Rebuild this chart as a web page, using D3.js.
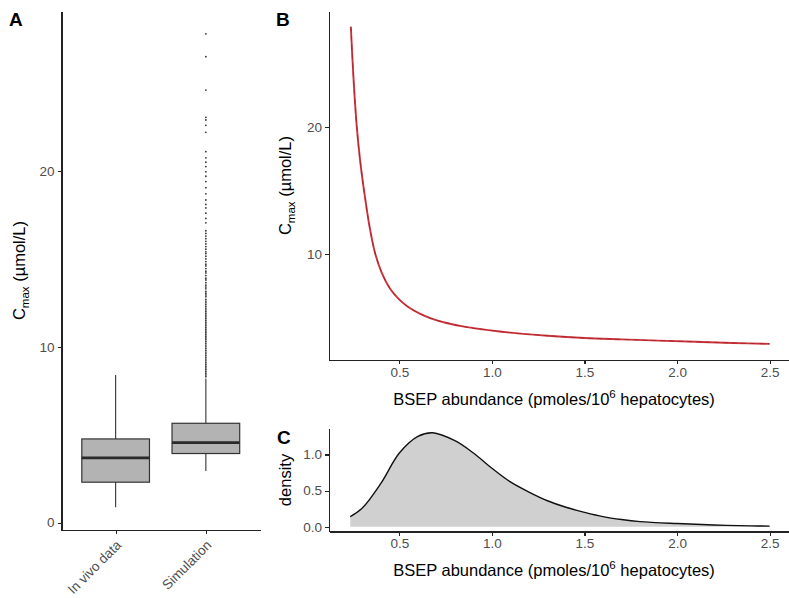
<!DOCTYPE html>
<html>
<head>
<meta charset="utf-8">
<title>Cmax vs BSEP</title>
<script src="https://d3js.org/d3.v7.min.js"></script>
<style>
    body{ margin:0; background:#fff; }
    .axis path, .axis line{ fill:none; stroke:#222; stroke-width:1.2; shape-rendering:crispEdges; }
    .axis text{ font-family:"Liberation Sans", Arial, sans-serif; font-size:13.5px; fill:#4d4d4d; }
    .title{ font-family:"Liberation Sans", Arial, sans-serif; font-size:16.5px; fill:#000; }
    .tag{ font-family:"Liberation Sans", Arial, sans-serif; font-size:19px; font-weight:bold; fill:#000; }
</style>
</head>
<body>
<script>
// panel A: boxplot data
var groups = ["In vivo data", "Simulation"];
var boxLow    = [0.88, 2.94];
var boxQ1     = [2.30, 3.93];
var boxMedian = [3.68, 4.55];
var boxQ3     = [4.76, 5.65];
var boxHigh   = [8.40, 8.20];
var simOutliers = [27.8, 26.5, 24.6, 23.05, 22.9, 22.6, 22.2, 21.1, 20.75, 20.5, 20.25, 19.95,
    19.7, 19.4, 19.05, 18.7, 18.35, 18.1, 17.9, 17.6, 17.3, 17.05, 16.6, 16.45, 16.3, 16.15,
    16.0, 15.85, 15.7, 15.55, 15.4, 15.3, 15.15, 15.0, 14.85, 14.7, 14.6, 14.45, 14.3, 14.2,
    14.05, 13.9, 13.8, 13.65, 13.5, 13.4, 13.3, 13.15, 13.05, 12.95, 12.85, 12.7, 12.6, 12.5,
    12.4, 12.3, 12.2, 12.1, 12.0, 11.9, 11.8, 11.7, 11.6, 11.5, 11.4, 11.3, 11.2, 11.1, 11.0,
    10.9, 10.8, 10.7, 10.6, 10.5, 10.4, 10.3, 10.2, 10.1, 10.0, 9.9, 9.8, 9.7, 9.6, 9.5, 9.4,
    9.3, 9.2, 9.1, 9.0, 8.9, 8.8, 8.7, 8.6, 8.5, 8.4, 8.3];
var aTicks = [0, 10, 20];

// panel B: Cmax vs BSEP abundance
var bsepX = [0.238, 0.252, 0.270, 0.288, 0.306, 0.324, 0.342, 0.369, 0.405, 0.45, 0.50, 0.55,
    0.61, 0.67, 0.75, 0.85, 0.95, 1.10, 1.30, 1.50, 1.70, 1.90, 2.10, 2.30, 2.50];
var cmaxY = [27.86, 23.9, 20.0, 17.35, 15.3, 13.5, 11.9, 10.05, 8.5, 7.25, 6.4, 5.8,
    5.3, 4.93, 4.58, 4.27, 4.06, 3.8, 3.56, 3.38, 3.27, 3.17, 3.08, 2.99, 2.92];
var bYTicks = [10, 20];
var xTicks = [0.5, 1.0, 1.5, 2.0, 2.5];

// panel C: density of BSEP abundance
var densX = [0.235, 0.30, 0.40, 0.50, 0.60, 0.68, 0.80, 0.90, 1.00, 1.10, 1.20, 1.30, 1.40,
    1.50, 1.60, 1.70, 1.80, 2.00, 2.20, 2.40, 2.50];
var densY = [0.14, 0.26, 0.60, 1.02, 1.25, 1.30, 1.19, 1.02, 0.81, 0.62, 0.48, 0.36, 0.27,
    0.20, 0.14, 0.10, 0.072, 0.045, 0.025, 0.013, 0.01];
var cYTicks = [0.0, 0.5, 1.0];

var w = 789, h = 598;
var svg = d3.select("body").append("svg").attr("width", w).attr("height", h);

// ---------- A ----------
var ax = d3.scalePoint().domain(groups).range([61.5, 260]).padding(0.6);
var ay = d3.scaleLinear().domain([-0.42, 29.1]).range([530, 11]);
var bw = ax.step() * 0.75;

var boxes = groups.map(function(g, i){
    return {g:g, lo:boxLow[i], q1:boxQ1[i], med:boxMedian[i], q3:boxQ3[i], hi:boxHigh[i]};
});
var gA = svg.append("g");
gA.selectAll(".whisk").data(boxes).enter().append("line")
    .attr("x1", function(d){ return ax(d.g); }).attr("x2", function(d){ return ax(d.g); })
    .attr("y1", function(d){ return ay(d.lo); }).attr("y2", function(d){ return ay(d.hi); })
    .attr("stroke", "#333").attr("stroke-width", 1.1);
gA.selectAll(".box").data(boxes).enter().append("rect")
    .attr("x", function(d){ return ax(d.g) - bw/2; })
    .attr("y", function(d){ return ay(d.q3); })
    .attr("width", bw)
    .attr("height", function(d){ return ay(d.q1) - ay(d.q3); })
    .attr("fill", "#b3b3b3").attr("stroke", "#333").attr("stroke-width", 1.2);
gA.selectAll(".med").data(boxes).enter().append("line")
    .attr("x1", function(d){ return ax(d.g) - bw/2; }).attr("x2", function(d){ return ax(d.g) + bw/2; })
    .attr("y1", function(d){ return ay(d.med); }).attr("y2", function(d){ return ay(d.med); })
    .attr("stroke", "#2a2a2a").attr("stroke-width", 2.6);
gA.selectAll(".out").data(simOutliers).enter().append("circle")
    .attr("cx", ax("Simulation")).attr("cy", function(d){ return ay(d); })
    .attr("r", 0.9).attr("fill", "#333");

gA.append("g").attr("class", "axis").attr("transform", "translate(61.5,0)")
    .call(d3.axisLeft(ay).tickValues(aTicks).tickSize(4).tickSizeOuter(0).tickPadding(3).tickFormat(d3.format("d")));
var axA = gA.append("g").attr("class", "axis").attr("transform", "translate(0,530)")
    .call(d3.axisBottom(ax).tickSize(4).tickSizeOuter(0).tickPadding(3));
axA.selectAll("text")
    .attr("x", 0).attr("y", 0).attr("dy", 0)
    .attr("text-anchor", "end")
    .attr("transform", "translate(6,16) rotate(-45)");

gA.append("text").attr("class", "title")
    .attr("transform", "translate(25,270.5) rotate(-90)")
    .attr("text-anchor", "middle")
    .call(function(t){
        t.append("tspan").text("C");
        t.append("tspan").attr("font-size", "11.5px").attr("dy", "4").text("max");
        t.append("tspan").attr("dy", "-4").text(" (\u00b5mol/L)");
    });
svg.append("text").attr("class", "tag").attr("x", 9).attr("y", 26).text("A");

// ---------- B ----------
var bx = d3.scaleLinear().domain([0.12, 2.61]).range([329, 790]);
var by = d3.scaleLinear().domain([1.65, 29.1]).range([360, 11]);
var bPts = bsepX.map(function(x, i){ return [x, cmaxY[i]]; });
var bLine = d3.line().x(function(d){ return bx(d[0]); }).y(function(d){ return by(d[1]); })
    .curve(d3.curveCatmullRom.alpha(0.5));
svg.append("path").datum(bPts).attr("d", bLine)
    .attr("fill", "none").attr("stroke", "#cc343b").attr("stroke-width", 1.9);
svg.append("path").datum(bPts).attr("d", bLine)
    .attr("fill", "none").attr("stroke", "#8e1d22").attr("stroke-width", 0.8)
    .attr("stroke-dasharray", "5,4").attr("opacity", 0.7);

svg.append("g").attr("class", "axis").attr("transform", "translate(329,0)")
    .call(d3.axisLeft(by).tickValues(bYTicks).tickSize(4).tickSizeOuter(0).tickPadding(3).tickFormat(d3.format("d")));
svg.append("g").attr("class", "axis").attr("transform", "translate(0,360)")
    .call(d3.axisBottom(bx).tickValues(xTicks).tickSize(4).tickSizeOuter(0).tickPadding(3).tickFormat(d3.format(".1f")));

function bsepTitle(y){
    svg.append("text").attr("class", "title")
        .attr("x", 554).attr("y", y).attr("text-anchor", "middle")
        .call(function(t){
            t.append("tspan").text("BSEP abundance (pmoles/10");
            t.append("tspan").attr("font-size", "11.5px").attr("dy", "-7").text("6");
            t.append("tspan").attr("dy", "7").text(" hepatocytes)");
        });
}
bsepTitle(405);
svg.append("text").attr("class", "title")
    .attr("transform", "translate(291,185.5) rotate(-90)")
    .attr("text-anchor", "middle")
    .call(function(t){
        t.append("tspan").text("C");
        t.append("tspan").attr("font-size", "11.5px").attr("dy", "4").text("max");
        t.append("tspan").attr("dy", "-4").text(" (\u00b5mol/L)");
    });
svg.append("text").attr("class", "tag").attr("x", 276).attr("y", 26).text("B");

// ---------- C ----------
var cy = d3.scaleLinear().domain([-0.065, 1.362]).range([531.5, 428.3]);
var cPts = densX.map(function(x, i){ return [x, densY[i]]; });
svg.append("path").datum(cPts)
    .attr("d", d3.area().x(function(d){ return bx(d[0]); }).y0(cy(0)).y1(function(d){ return cy(d[1]); })
        .curve(d3.curveCatmullRom.alpha(0.5)))
    .attr("fill", "#d0d0d1");
svg.append("path").datum(cPts)
    .attr("d", d3.line().x(function(d){ return bx(d[0]); }).y(function(d){ return cy(d[1]); })
        .curve(d3.curveCatmullRom.alpha(0.5)))
    .attr("fill", "none").attr("stroke", "#111").attr("stroke-width", 1.4);

svg.append("g").attr("class", "axis").attr("transform", "translate(329,0)")
    .call(d3.axisLeft(cy).tickValues(cYTicks).tickSize(4).tickSizeOuter(0).tickPadding(3).tickFormat(d3.format(".1f")));
svg.append("g").attr("class", "axis").attr("transform", "translate(0,531.5)")
    .call(d3.axisBottom(bx).tickValues(xTicks).tickSize(4).tickSizeOuter(0).tickPadding(3).tickFormat(d3.format(".1f")));
bsepTitle(576);
svg.append("text").attr("class", "title")
    .attr("transform", "translate(291,480) rotate(-90)")
    .attr("text-anchor", "middle").text("density");
svg.append("text").attr("class", "tag").attr("x", 277).attr("y", 444).text("C");
</script>
</body>
</html>
